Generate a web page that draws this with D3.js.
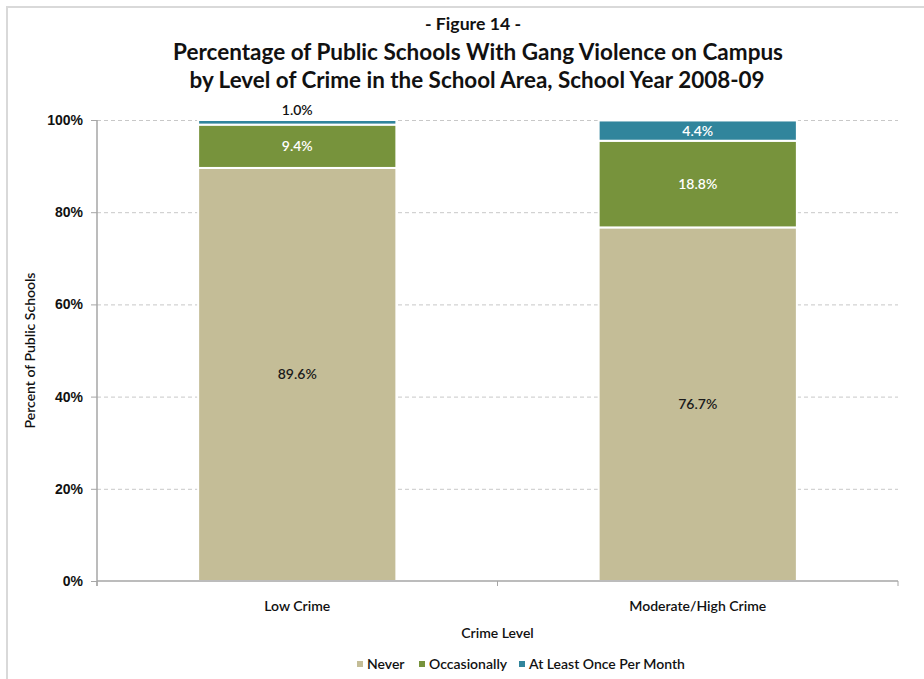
<!DOCTYPE html>
<html>
<head>
<meta charset="utf-8">
<script src="https://cdn.jsdelivr.net/npm/d3@7"></script>
<style>
  html, body { margin: 0; padding: 0; background: #fff; }
  svg { display: block; font-family: Lato, "DejaVu Sans Condensed", "Liberation Sans", sans-serif; }
</style>
</head>
<body>
<svg id="chart" width="924" height="679"></svg>
<script>
// Categories, series and values
const categories = ["Low Crime", "Moderate/High Crime"];
const seriesNames = ["Never", "Occasionally", "At Least Once Per Month"];
const never = [89.6, 76.7];
const occasionally = [9.4, 18.8];
const monthly = [1.0, 4.4];
const yTicks = [0, 20, 40, 60, 80, 100];
const colors = ["#C4BD97", "#77933C", "#31859C"];
const labelColors = ["#1a1a1a", "#ffffff", "#ffffff"];

const rows = categories.map((c, i) => ({
  category: c,
  "Never": never[i],
  "Occasionally": occasionally[i],
  "At Least Once Per Month": monthly[i]
}));

const svg = d3.select("#chart");
const margin = { left: 97, right: 26, top: 120, bottom: 98 };
const W = 924, H = 679;
const innerW = W - margin.left - margin.right;
const innerH = H - margin.top - margin.bottom;
const FS = 14;
const FW = 600;
const TXT = "#111";

// Outer frame (top and left edges)
svg.append("path")
  .attr("d", `M7,679 L7,7 L924,7`)
  .attr("fill", "none").attr("stroke", "#d9d9d9").attr("stroke-width", 2);

const x = d3.scaleBand().domain(categories).range([margin.left, margin.left + innerW]).paddingInner(0.505).paddingOuter(0.2525);
const y = d3.scaleLinear().domain([0, 100]).range([margin.top + innerH, margin.top]);

// Dashed gridlines
svg.append("g").selectAll("line").data(yTicks.filter(t => t > 0)).join("line")
  .attr("x1", margin.left).attr("x2", margin.left + innerW)
  .attr("y1", d => y(d) + 0.5).attr("y2", d => y(d) + 0.5)
  .attr("stroke", "#c8c8c8").attr("stroke-width", 1).attr("stroke-dasharray", "4,3");

// Stacked bars
const stack = d3.stack().keys(seriesNames)(rows);
const g = svg.append("g");
stack.forEach((layer, si) => {
  g.selectAll(null).data(layer).join("rect")
    .attr("x", d => x(d.data.category))
    .attr("width", x.bandwidth())
    .attr("y", d => y(d[1]))
    .attr("height", d => y(d[0]) - y(d[1]))
    .attr("fill", colors[si])
    .attr("stroke", "#fff").attr("stroke-width", 2);
});

// Value labels
stack.forEach((layer, si) => {
  g.selectAll(null).data(layer).join("text")
    .attr("x", d => x(d.data.category) + x.bandwidth() / 2)
    .attr("y", d => {
      const v = d[1] - d[0];
      if (v < 2) return y(d[1]) - 5;
      return (y(d[0]) + y(d[1])) / 2 + 5;
    })
    .attr("text-anchor", "middle")
    .attr("font-size", FS).attr("font-weight", FW)
    .attr("fill", d => (d[1] - d[0] < 2) ? TXT : labelColors[si])
    .text(d => d3.format(".1f")(d[1] - d[0]) + "%");
});

// Y axis
const yAxis = d3.axisLeft(y).tickValues(yTicks).tickFormat(d => d + "%").tickSize(6).tickPadding(8);
const ya = svg.append("g").attr("transform", `translate(${margin.left},0)`).call(yAxis);
ya.select(".domain").attr("stroke", "#a6a6a6").attr("stroke-width", 1.5).attr("d", `M0,${margin.top}V${margin.top + innerH + 5}`);
ya.selectAll(".tick line").attr("stroke", "#a6a6a6");
ya.selectAll("text").attr("font-size", FS).attr("font-weight", FW).attr("fill", TXT)
  .attr("font-family", "inherit");

// X axis
const xa = svg.append("g").attr("transform", `translate(0,${margin.top + innerH})`);
xa.append("line").attr("x1", margin.left).attr("x2", margin.left + innerW)
  .attr("stroke", "#a6a6a6").attr("stroke-width", 1.5);
const bounds = [margin.left, margin.left + innerW / 2, margin.left + innerW];
xa.selectAll(null).data(bounds).join("line")
  .attr("x1", d => d).attr("x2", d => d).attr("y1", 0).attr("y2", 5)
  .attr("stroke", "#a6a6a6").attr("stroke-width", 1);
xa.selectAll(null).data(categories).join("text")
  .attr("x", d => x(d) + x.bandwidth() / 2).attr("y", 30)
  .attr("text-anchor", "middle").attr("font-size", FS).attr("font-weight", FW).attr("fill", TXT)
  .text(d => d);

// Axis titles
svg.append("text").attr("x", margin.left + innerW / 2).attr("y", 638)
  .attr("text-anchor", "middle").attr("font-size", FS).attr("font-weight", FW).attr("fill", TXT)
  .text("Crime Level");
svg.append("text").attr("transform", `translate(35,${margin.top + innerH / 2}) rotate(-90)`)
  .attr("text-anchor", "middle").attr("font-size", FS).attr("font-weight", FW).attr("fill", TXT)
  .text("Percent of Public Schools");

// Titles
svg.append("text").attr("x", 473).attr("y", 30).attr("text-anchor", "middle")
  .attr("font-size", 17).attr("font-weight", "bold").attr("fill", TXT)
  .attr("textLength", 96).attr("lengthAdjust", "spacingAndGlyphs")
  .text("- Figure 14 -");
svg.append("text").attr("x", 478).attr("y", 60).attr("text-anchor", "middle")
  .attr("font-size", 23).attr("font-weight", "bold").attr("fill", TXT)
  .attr("textLength", 610).attr("lengthAdjust", "spacingAndGlyphs")
  .text("Percentage of Public Schools With Gang Violence on Campus");
svg.append("text").attr("x", 477).attr("y", 88).attr("text-anchor", "middle")
  .attr("font-size", 23).attr("font-weight", "bold").attr("fill", TXT)
  .attr("textLength", 575).attr("lengthAdjust", "spacingAndGlyphs")
  .text("by Level of Crime in the School Area, School Year 2008-09");

// Legend
const legendItems = [
  { name: seriesNames[0], color: colors[0], x: 357 },
  { name: seriesNames[1], color: colors[1], x: 419 },
  { name: seriesNames[2], color: colors[2], x: 519 }
];
const lg = svg.append("g");
legendItems.forEach(it => {
  lg.append("rect").attr("x", it.x).attr("y", 661).attr("width", 6).attr("height", 6).attr("fill", it.color);
  lg.append("text").attr("x", it.x + 10).attr("y", 669).attr("font-size", FS).attr("font-weight", FW)
    .attr("fill", TXT).text(it.name);
});
</script>
</body>
</html>
